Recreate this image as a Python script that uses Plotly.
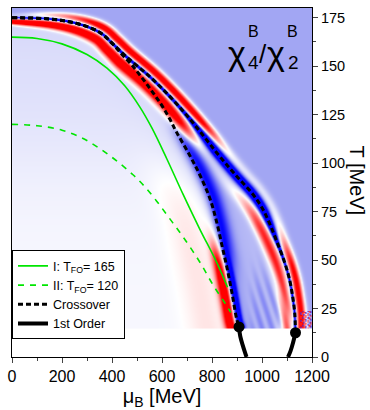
import numpy as np
import plotly.graph_objects as go

# ---------------- data (mu_B in MeV, T in MeV) ----------------
# crossover line that follows the high-mu_B ridge to the upper critical point
cross_hi_mu = [0, 150, 260, 350, 403, 458, 551, 631, 700, 760, 818, 870, 911, 960, 1000, 1030, 1058, 1090, 1111, 1124, 1131, 1134]
cross_hi_T = [175, 174.3, 172, 167.5, 161.5, 154.8, 144.6, 134.4, 124.5, 115, 105.5, 97.5, 91.5, 84.5, 77, 69, 60, 49, 39.5, 30, 22.5, 12.5]
# crossover line that branches off towards the lower critical point
cross_lo_mu = [0, 150, 260, 350, 403, 440, 480, 520, 560, 598, 630, 658, 711, 751, 791, 818, 840, 860, 880, 898, 908]
cross_lo_T = [175, 174.3, 172, 167.5, 161.5, 156, 150.5, 144, 137, 130, 123, 116, 104, 94, 82, 70, 57.5, 46, 33, 20, 15.5]
# first-order lines below the critical points
first1_mu = [908, 913, 924, 938]
first1_T = [15.5, 10.7, 5.6, 0]
first2_mu = [1134, 1124, 1114, 1104]
first2_T = [12.5, 7.3, 3.0, 0]
# critical end points
cep_mu = [908, 1134]
cep_T = [15.5, 12.5]
# freeze-out curves
fo165_mu = [0, 100, 200, 300, 380, 450, 511, 560, 620, 684, 751, 818, 862]
fo165_T = [165, 164.3, 161.5, 156, 149, 140, 129, 118, 102, 84, 66, 49, 36]
fo120_mu = [0, 100, 200, 280, 351, 420, 484, 530, 578, 630, 684, 751, 805, 851, 875]
fo120_T = [120, 119.3, 117, 113, 107.5, 101, 94, 88, 80.5, 71.5, 62, 49, 37, 28, 23]

x_ticks = [0, 200, 400, 600, 800, 1000, 1200]
y_ticks = [0, 25, 50, 75, 100, 125, 150, 175]

# ---------------- kurtosis ratio map built around the two crossover lines ----------------
SX, SY = 0.25, 1.966          # screen pixels per MeV on each axis


def catmull(xs, ys, n=24):
    x = np.asarray(xs, float)
    y = np.asarray(ys, float)
    px = np.concatenate([[2 * x[0] - x[1]], x, [2 * x[-1] - x[-2]]])
    py = np.concatenate([[2 * y[0] - y[1]], y, [2 * y[-1] - y[-2]]])
    ox, oy = [], []
    t = np.linspace(0, 1, n, endpoint=False)
    for i in range(1, len(px) - 2):
        p0, p1, p2, p3 = px[i - 1:i + 3]
        q0, q1, q2, q3 = py[i - 1:i + 3]
        ox.append(0.5 * (2 * p1 + (-p0 + p2) * t + (2 * p0 - 5 * p1 + 4 * p2 - p3) * t**2 + (-p0 + 3 * p1 - 3 * p2 + p3) * t**3))
        oy.append(0.5 * (2 * q1 + (-q0 + q2) * t + (2 * q0 - 5 * q1 + 4 * q2 - q3) * t**2 + (-q0 + 3 * q1 - 3 * q2 + q3) * t**3))
    ox.append([x[-1]])
    oy.append([y[-1]])
    return np.concatenate(ox), np.concatenate(oy)


def signed_distance(mu_pts, T_pts, PX, PY):
    cx, cy = catmull(np.asarray(mu_pts) * SX, np.asarray(T_pts) * SY)
    tx, ty = np.gradient(cx), np.gradient(cy)
    nn = np.hypot(tx, ty) + 1e-9
    nx, ny = -ty / nn, tx / nn
    qx, qy = PX.ravel(), PY.ravel()
    out = np.empty(qx.size)
    for s in range(0, qx.size, 4000):
        dx = qx[s:s + 4000, None] - cx[None, :]
        dy = qy[s:s + 4000, None] - cy[None, :]
        d2 = dx * dx + dy * dy
        k = np.argmin(d2, axis=1)
        r = np.arange(k.size)
        sg = np.sign(dx[r, k] * nx[k] + dy[r, k] * ny[k])
        sg[sg == 0] = 1
        out[s:s + 4000] = np.sqrt(d2[r, k]) * sg
    return out.reshape(PX.shape)


def sig(x):
    return 1.0 / (1.0 + np.exp(-x))


def bump(x, c, s):
    return np.exp(-((x - c) / s) ** 2)


def window(T, a, b, e=5.0):
    return sig((T - a) / e) * sig((b - T) / e)


mu_grid = np.arange(0, 1201, 4.0)
T_grid = np.arange(15, 180.01, 0.5)
MU, TT = np.meshgrid(mu_grid, T_grid)
PX, PY = MU * SX, TT * SY

d_hi = signed_distance(cross_hi_mu, cross_hi_T, PX, PY)
d_lo = signed_distance(cross_lo_mu, cross_lo_T, PX, PY)

w = 0.45 + 0.55 * np.clip(MU / 420.0, 0, 1)

# smooth background: pale inside, lavender outside, bluish between the branches
in_val = -0.03 - 0.11 * sig((TT - 105) / 18) - 0.08 * np.exp(np.minimum(d_lo, 0) / 12.0)
bt_val = -0.27 - 0.2 * np.exp(-np.maximum(d_lo, 0) / 10.0) * sig((120 - TT) / 5)
out_val = -0.36
s_i, s_o = sig(d_lo / 1.5), sig(d_hi / 1.5)
z = (1 - s_i) * in_val + s_i * ((1 - s_o) * bt_val + s_o * out_val)

# ridge along the upper crossover line with red flanks
upper = sig((TT - 114) / 4)
lower = sig((58 - TT) / 5)
sig_r = w * (1.8 + 2.6 * window(TT, 66, 118) - 0.6 * lower)
z += -1.5 * bump(d_hi, 0, sig_r)
a_out = (1.6 * upper) * (0.05 + 0.95 * np.clip(MU / 350.0, 0, 1) ** 1.5) + 0.25 * window(TT, 60, 114) + 1.5 * lower
z += a_out * bump(d_hi, sig_r + 5.0 * w, 4.5 * w)
a_in = 1.7 * upper + 0.1 * window(TT, 78, 114) + 1.2 * window(TT, 32, 78) + 0.9 * sig((32 - TT) / 4)
z += a_in * bump(d_hi, -(sig_r + 7.0 * w), 6.0 * w)

# features of the lower crossover branch
sep = sig((116 - TT) / 5)
deep = sig((48 - TT) / 5)
z += -0.6 * sep * (1 - deep) * bump(d_lo, 4.0, 8.0)
z += -1.3 * deep * bump(d_lo, 2.0, 3.5)
z += 1.5 * sig((55 - TT) / 5) * bump(d_lo, -7.5, 5.5)
z += 0.14 * sig((90 - TT) / 8) * bump(d_lo, -30, 20)

# faint stripes between the branches near the bottom
between = s_i * (1 - s_o)
z += -0.2 * sig((42 - TT) / 5) * between * (0.5 + 0.5 * np.cos(2 * np.pi * (MU + 2.5 * (TT - 15)) / 40.0)) * sig((MU - 960) / 10)

# ragged values along the lower boundary of the computed region
pat = np.sin(MU * 0.45) * np.cos(MU * 0.13 + TT * 1.7)
edge_l = (MU > 8) & (MU < 345)
z = np.where(edge_l & (TT < 16.6), np.where(np.sin(MU * 0.5) > -0.7, -0.85, 0.7), z)
z = np.where(edge_l & (TT >= 16.6) & (TT < 19.5) & (pat > 0.8), 0.7, z)
z = np.where(edge_l & (TT >= 16.6) & (TT < 19.5) & (pat < -0.9), -0.7, z)
edge_r = (MU > 1150) & (TT < 24)
z = np.where(edge_r & (pat > 0.35), 0.8, z)
z = np.where(edge_r & (pat < -0.5), -0.8, z)

z = np.round(np.clip(z, -1, 1), 3)

colorscale = [
    [0.0, "rgb(0,0,255)"],
    [0.32, "rgb(162,166,243)"],
    [0.5, "rgb(255,255,255)"],
    [1.0, "rgb(255,0,0)"],
]

fig = go.Figure()
fig.add_trace(go.Heatmap(
    x=mu_grid, y=T_grid, z=z, zmin=-1, zmax=1, colorscale=colorscale,
    showscale=False, hoverinfo="skip", zsmooth="fast",
))

green = "rgb(0,230,0)"
fig.add_trace(go.Scatter(x=fo165_mu, y=fo165_T, mode="lines", name="I: T<sub>FO</sub>= 165",
                         line=dict(color=green, width=1.6, shape="spline")))
fig.add_trace(go.Scatter(x=fo120_mu, y=fo120_T, mode="lines", name="II: T<sub>FO</sub>= 120",
                         line=dict(color=green, width=1.6, dash="6px,6px", shape="spline")))
fig.add_trace(go.Scatter(x=cross_hi_mu, y=cross_hi_T, mode="lines", name="Crossover",
                         line=dict(color="black", width=3, dash="5px,3px", shape="spline")))
fig.add_trace(go.Scatter(x=cross_lo_mu, y=cross_lo_T, mode="lines", showlegend=False,
                         line=dict(color="black", width=3, dash="5px,3px", shape="spline")))
fig.add_trace(go.Scatter(x=first1_mu, y=first1_T, mode="lines", name="1st Order",
                         line=dict(color="black", width=4, shape="spline")))
fig.add_trace(go.Scatter(x=first2_mu, y=first2_T, mode="lines", showlegend=False,
                         line=dict(color="black", width=4, shape="spline")))
fig.add_trace(go.Scatter(x=cep_mu, y=cep_T, mode="markers", showlegend=False,
                         marker=dict(color="black", size=11)))

FONT = "Liberation Sans, Arial, sans-serif"


def px2paper(px, py):
    return (px - 12) / 300.0, (361 - py) / 354.0


def label(text, px, py, size):
    xp, yp = px2paper(px, py)
    fig.add_annotation(text=text, x=xp, y=yp, xref="paper", yref="paper", showarrow=False,
                       xanchor="center", yanchor="middle", borderpad=0,
                       font=dict(family=FONT, size=size, color="black"))


# chi_4^B / chi_2^B
label("χ", 237, 53, 34)
label("4", 253, 62, 19)
label("B", 253, 31, 16)
label("/", 263, 54, 26)
label("χ", 276, 53, 34)
label("2", 293, 62, 19)
label("B", 292, 31, 16)

# right-hand axis title, reading downwards
xp, yp = px2paper(357, 182)
fig.add_annotation(text="T [MeV]", x=xp, y=yp, xref="paper", yref="paper", showarrow=False,
                   xanchor="center", yanchor="middle",
                   textangle=90, font=dict(family=FONT, size=20, color="black"))

fig.update_layout(
    width=370, height=410,
    margin=dict(l=12, r=58, t=7, b=49),
    paper_bgcolor="white", plot_bgcolor="white",
    font=dict(family=FONT, size=14, color="black"),
    showlegend=True,
    legend=dict(x=0.0, y=0.306, xanchor="left", yanchor="top",
                bgcolor="white", bordercolor="black", borderwidth=1,
                font=dict(family=FONT, size=12.5, color="black"),
                tracegroupgap=0, itemwidth=30),
    xaxis=dict(range=[0, 1200], tickvals=x_ticks, ticks="outside", ticklen=5, tickwidth=1,
               showline=True, linecolor="black", linewidth=1, mirror=True, showgrid=False, zeroline=False,
               tickfont=dict(size=16), minor=dict(dtick=100, ticks="outside", ticklen=3, showgrid=False),
               title=dict(text="μ<sub>B</sub> [MeV]", font=dict(size=20), standoff=4)),
    yaxis=dict(range=[0, 180], side="right", tickvals=y_ticks, ticks="outside", ticklen=5, tickwidth=1,
               showline=True, linecolor="black", linewidth=1, mirror=True, showgrid=False, zeroline=False,
               tickfont=dict(size=14.5), minor=dict(dtick=12.5, ticks="outside", ticklen=3, showgrid=False)),
)

fig.write_html("out.html")
